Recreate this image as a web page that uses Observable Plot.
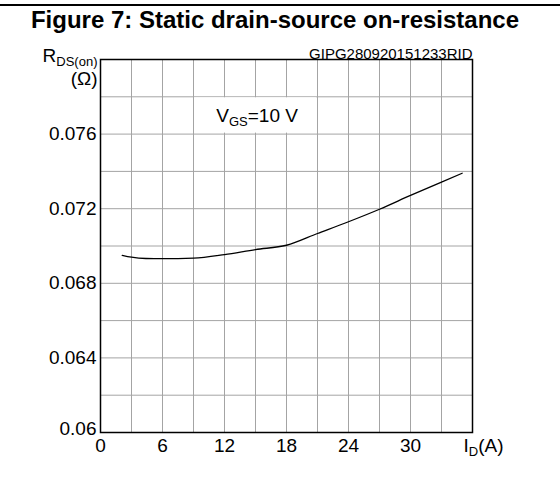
<!DOCTYPE html>
<html>
<head>
<meta charset="utf-8">
<script src="https://cdn.jsdelivr.net/npm/d3@7"></script>
<script src="https://cdn.jsdelivr.net/npm/@observablehq/plot@0.6"></script>
<style>
  html, body { margin: 0; padding: 0; background: #fff; }
  #wrap { width: 560px; height: 479px; position: relative; overflow: hidden; }
  #title {
    margin-top: 4px;
    border-top: 2px solid #000;
    height: 30px;
    box-sizing: border-box;
    padding-top: 2px;
    padding-right: 10px;
    text-align: center;
    font: bold 24px "Liberation Sans", Arial, sans-serif;
    line-height: 24px;
    color: #000;
    white-space: nowrap;
  }
  svg text { font-family: "Liberation Sans", Arial, sans-serif; }
</style>
</head>
<body>
<div id="wrap">
  <div id="title">Figure 7: Static drain-source on-resistance</div>
  <div id="chart"></div>
</div>
<script>
// Data (V_GS = 10 V)
const currentA = [2.1, 3, 4.4, 6, 9, 12, 15, 18, 21, 24, 27, 30, 33, 35];
const resistanceOhm = [0.06950, 0.06940, 0.06933, 0.06932, 0.06935, 0.06954, 0.06981, 0.07004, 0.07067, 0.07130, 0.07197, 0.07271, 0.07343, 0.07390];

const xTicks = [0, 6, 12, 18, 24, 30];
const yTicks = [0.064, 0.068, 0.072, 0.076];
const yBottomLabel = "0.06";
const xGrid = [3, 6, 9, 12, 15, 18, 21, 24, 27, 30, 33];
const yGrid = [0.062, 0.064, 0.066, 0.068, 0.070, 0.072, 0.074, 0.076, 0.078];

const curve = currentA.map((x, i) => ({x, y: resistanceOhm[i]}));

const chart = Plot.plot({
  width: 560,
  height: 443,
  marginTop: 25,
  marginLeft: 100,
  marginRight: 88,
  marginBottom: 45,
  style: {fontFamily: "Liberation Sans, Arial, sans-serif", background: "#fff", overflow: "visible"},
  x: {domain: [0, 36], ticks: xTicks, tickFormat: d => String(d)},
  y: {domain: [0.06, 0.08], ticks: yTicks, tickFormat: d => d3.format(".3f")(d)},
  marks: [
    Plot.ruleX(xGrid, {stroke: "#a4a4a4", strokeWidth: 1}),
    Plot.ruleY(yGrid, {stroke: "#a4a4a4", strokeWidth: 1}),
    Plot.rect([{x1: 9, x2: 21, y1: 0.076, y2: 0.078}], {x1: "x1", x2: "x2", y1: "y1", y2: "y2", fill: "white", inset: 1}),
    Plot.axisX({ticks: xTicks, tickSize: 0, tickPadding: 6, fontSize: 19, fill: "black", tickFormat: d => String(d)}),
    Plot.axisY({ticks: yTicks, tickSize: 0, tickPadding: 4, fontSize: 19, fill: "black", tickFormat: d => d3.format(".3f")(d)}),
    Plot.text([yBottomLabel], {x: 0, y: 0.06, text: d => d, textAnchor: "end", lineAnchor: "bottom", dx: -4, dy: 2, fontSize: 19, fill: "black"}),
    Plot.line(curve, {x: "x", y: "y", stroke: "black", strokeWidth: 1.3, curve: "monotone-x"}),
    Plot.frame({stroke: "black", strokeWidth: 1.5}),
    Plot.text(["V_{GS}=10 V"], {x: 11.2, y: 0.077, text: d => d, textAnchor: "start", lineAnchor: "middle", fontSize: 19, fill: "black", className: "subtxt"}),
    Plot.text(["GIPG280920151233RID"], {x: 36, y: 0.08, text: d => d, textAnchor: "end", lineAnchor: "bottom", dy: -1, fontSize: 15, fill: "black"}),
    Plot.text(["R_{DS(on)}"], {x: 0, y: 0.08, text: d => d, textAnchor: "end", lineAnchor: "bottom", dx: -3, dy: 2, fontSize: 19, fill: "black", className: "subtxt"}),
    Plot.text(["(Ω)"], {x: 0, y: 0.08, text: d => d, textAnchor: "end", lineAnchor: "bottom", dx: -3, dy: 25, fontSize: 19, fill: "black"}),
    Plot.text(["I_{D}(A)"], {x: 36, y: 0.06, text: d => d, textAnchor: "start", lineAnchor: "top", dx: -9, dy: 6, fontSize: 19, fill: "black", className: "subtxt"})
  ]
});

document.getElementById("chart").appendChild(chart);

// Render "_{...}" as subscripts with real text tspans
d3.select(chart).selectAll("g.subtxt text").each(function() {
  const el = d3.select(this);
  const raw = el.text();
  const fs = parseFloat(getComputedStyle(this).fontSize) || 18;
  const subSize = Math.round(fs * 0.7);
  const shift = Math.round(fs * 0.22);
  const parts = [];
  const re = /_\{([^}]*)\}/g;
  let last = 0, m;
  while ((m = re.exec(raw)) !== null) {
    if (m.index > last) parts.push({t: raw.slice(last, m.index), sub: false});
    parts.push({t: m[1], sub: true});
    last = re.lastIndex;
  }
  if (last < raw.length) parts.push({t: raw.slice(last), sub: false});
  el.text(null);
  let shifted = false;
  parts.forEach(p => {
    const ts = el.append("tspan").text(p.t);
    if (p.sub) {
      ts.attr("font-size", subSize).attr("dy", shifted ? 0 : shift);
      shifted = true;
    } else {
      if (shifted) { ts.attr("dy", -shift); shifted = false; }
    }
  });
});
</script>
</body>
</html>
